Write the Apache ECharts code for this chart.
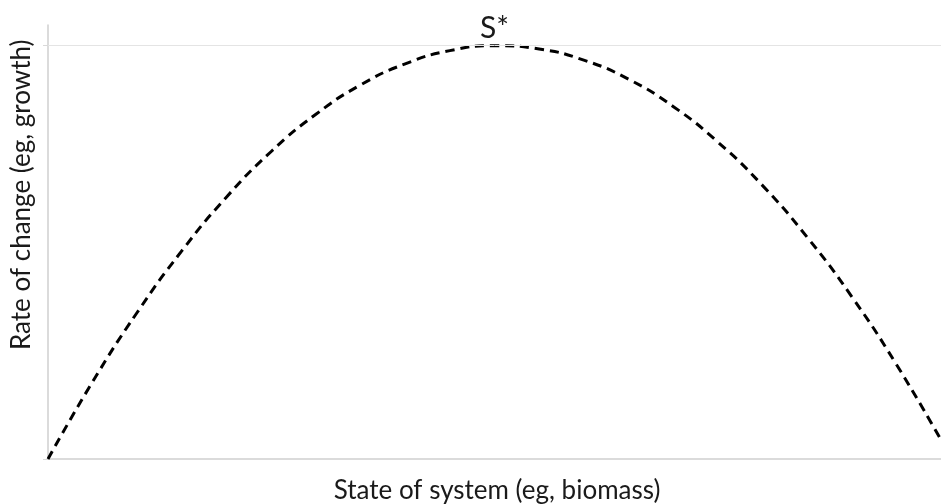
<!DOCTYPE html>
<html>
<head>
<meta charset="utf-8">
<script src="https://cdn.jsdelivr.net/npm/echarts@6/dist/echarts.min.js"></script>
<style>
  html, body { margin: 0; padding: 0; background: #fff; }
  #chart { width: 941px; height: 504px; }
</style>
</head>
<body>
<div id="chart"></div>
<script>
// state of system (x) and rate of change (y)
const stateValues = [0, 5, 10, 15, 20, 25, 30, 35, 40, 45, 50, 55, 60, 65, 70, 75, 80, 85, 90, 95, 100]
const rateValues = [0, 18.7, 35.5, 50.4, 63.4, 74.4, 83.4, 90.5, 95.6, 98.8, 100, 99.2, 96.5, 91.9, 85.3, 76.7, 66.2, 53.7, 39.3, 22.9, 4.6]
const peakPoint = [50, 100]
const peakLabel = 'S*'
const gridValue = 100
const xTitle = 'State of system (eg, biomass)'
const yTitle = 'Rate of change (eg, growth)'

const font = 'Lato, "Open Sans", sans-serif'
const chart = echarts.init(document.getElementById('chart'))

const option = {
  animation: false,
  grid: { left: 48, right: 0, top: 25, bottom: 45 },
  xAxis: {
    type: 'value',
    min: 0,
    max: 100,
    axisLine: { show: true, lineStyle: { color: '#cfcfcf', width: 1.5 } },
    axisTick: { show: false },
    axisLabel: { show: false },
    splitLine: { show: false }
  },
  yAxis: {
    type: 'value',
    min: 0,
    max: 105,
    interval: 100,
    axisLine: { show: true, lineStyle: { color: '#cfcfcf', width: 1.5 } },
    axisTick: {
      show: true,
      length: 5,
      customValues: [0, 100],
      lineStyle: { color: '#d9d9d9' }
    },
    axisLabel: { show: false },
    splitLine: { show: false }
  },
  graphic: [
    {
      type: 'text',
      x: 497,
      y: 478,
      style: { text: xTitle, font: '26px ' + font, fill: '#1a1a1a', textAlign: 'center', textVerticalAlign: 'top' }
    },
    {
      type: 'text',
      x: 9,
      y: 350,
      rotation: Math.PI / 2,
      style: { text: yTitle, font: '26px ' + font, fill: '#1a1a1a' }
    }
  ],
  series: [
    {
      type: 'line',
      data: stateValues.map((s, i) => [s, rateValues[i]]),
      smooth: true,
      showSymbol: false,
      lineStyle: { color: '#000', width: 3, type: [9, 6], cap: 'butt' },
      markLine: {
        silent: true,
        symbol: 'none',
        label: { show: false },
        lineStyle: { color: '#e4e4e4', width: 1, type: 'solid' },
        data: [{ yAxis: gridValue }]
      },
      markPoint: {
        symbol: 'circle',
        symbolSize: 0,
        data: [{ coord: peakPoint }],
        label: {
          show: true,
          position: 'top',
          distance: 2,
          formatter: peakLabel,
          color: '#1a1a1a',
          fontSize: 30,
          fontFamily: font
        }
      }
    }
  ]
}

chart.setOption(option)
</script>
</body>
</html>
